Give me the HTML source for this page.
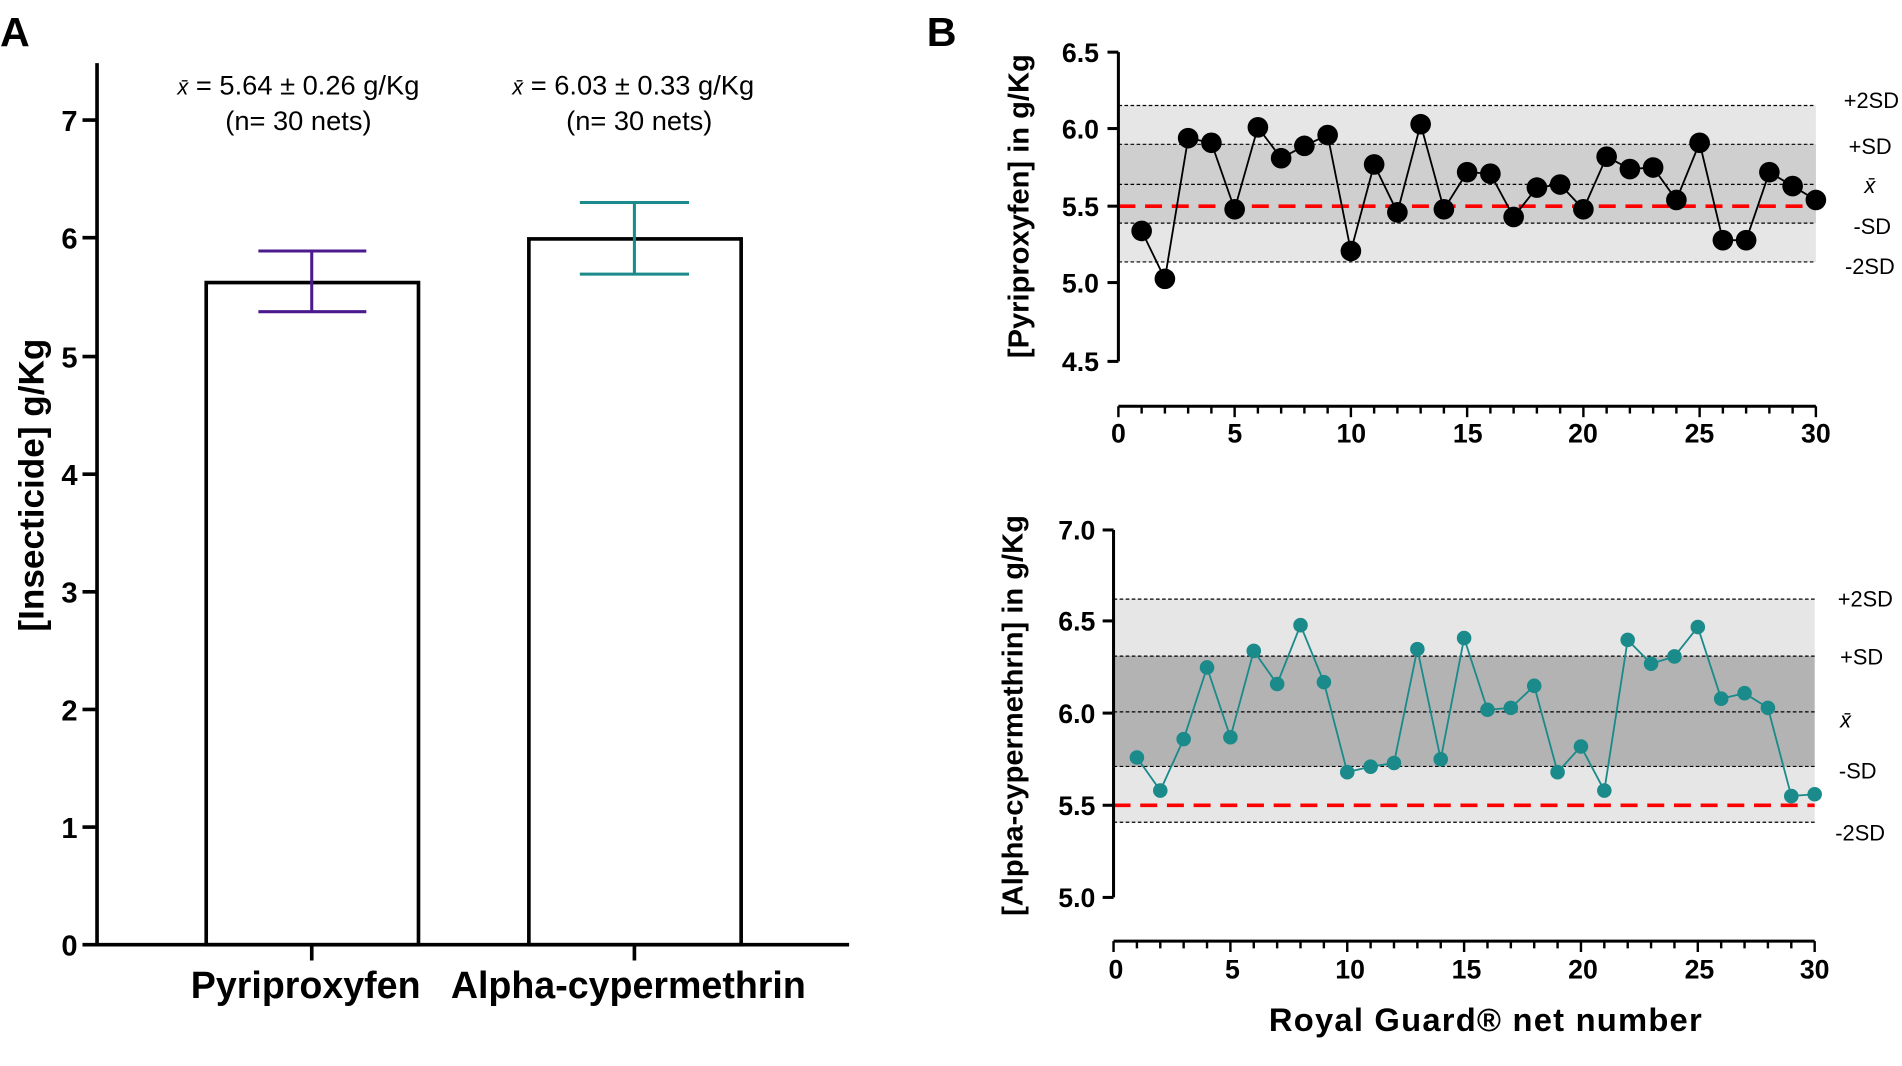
<!DOCTYPE html>
<html><head><meta charset="utf-8"><style>
html,body{margin:0;padding:0;background:#fff;width:1902px;height:1066px;overflow:hidden}
svg{display:block}
text{font-family:"Liberation Sans",sans-serif}
.b{font-weight:bold}
</style></head><body>
<svg id="s" width="1902" height="1066" viewBox="0 0 1568 879" preserveAspectRatio="none" xmlns="http://www.w3.org/2000/svg">
<text x="0" y="38" class="b" font-size="34">A</text>
<text x="764" y="38" class="b" font-size="34">B</text>
<g stroke="#000" stroke-width="3" fill="none">
<line x1="80" y1="52" x2="80" y2="780"/>
<line x1="68" y1="779" x2="700" y2="779"/>
<line x1="68" y1="99" x2="80" y2="99"/><line x1="68" y1="196" x2="80" y2="196"/>
<line x1="68" y1="294" x2="80" y2="294"/><line x1="68" y1="391" x2="80" y2="391"/>
<line x1="68" y1="488" x2="80" y2="488"/><line x1="68" y1="585" x2="80" y2="585"/>
<line x1="68" y1="682" x2="80" y2="682"/>
<line x1="257" y1="779" x2="257" y2="792"/><line x1="523" y1="779" x2="523" y2="792"/>
<rect x="170" y="233" width="175" height="546"/>
<rect x="436" y="197" width="175" height="582"/>
</g>
<g stroke="#4b1a8c" stroke-width="2.5"><line x1="213" y1="207" x2="302" y2="207"/><line x1="213" y1="257" x2="302" y2="257"/><line x1="257" y1="207" x2="257" y2="257"/></g>
<g stroke="#1a8a8a" stroke-width="2.5"><line x1="478" y1="167" x2="568" y2="167"/><line x1="478" y1="226" x2="568" y2="226"/><line x1="523" y1="167" x2="523" y2="226"/></g>
<g class="b" font-size="24" text-anchor="end">
<text x="64" y="108">7</text><text x="64" y="205">6</text><text x="64" y="303">5</text><text x="64" y="400">4</text>
<text x="64" y="497">3</text><text x="64" y="594">2</text><text x="64" y="691">1</text><text x="64" y="788">0</text>
</g>
<g font-size="22.5" text-anchor="middle">
<text x="246" y="78"><tspan font-style="italic" font-size="18">x̄</tspan> = 5.64 ± 0.26 g/Kg</text>
<text x="246" y="107">(n= 30 nets)</text>
<text x="522" y="78"><tspan font-style="italic" font-size="18">x̄</tspan> = 6.03 ± 0.33 g/Kg</text>
<text x="527" y="107">(n= 30 nets)</text>
</g>
<text x="252" y="823" class="b" font-size="31" text-anchor="middle">Pyriproxyfen</text>
<text x="518" y="823" class="b" font-size="31" text-anchor="middle">Alpha-cypermethrin</text>
<text transform="translate(36,400) rotate(-90)" class="b" font-size="29" text-anchor="middle">[Insecticide] g/Kg</text>

<rect x="922" y="87" width="575" height="129" fill="#e6e6e6"/>
<rect x="922" y="119" width="575" height="65" fill="#cfcfcf"/>
<g stroke="#000" stroke-width="1" stroke-dasharray="3,2">
<line x1="922" y1="87" x2="1497" y2="87"/><line x1="922" y1="119" x2="1497" y2="119"/>
<line x1="922" y1="152" x2="1497" y2="152"/><line x1="922" y1="184" x2="1497" y2="184"/>
<line x1="922" y1="216" x2="1497" y2="216"/></g>
<line x1="922" y1="170" x2="1497" y2="170" stroke="#f00" stroke-width="3" stroke-dasharray="14,8"/>
<g stroke="#000" stroke-width="2.5">
<line x1="922" y1="43" x2="922" y2="298"/>
<line x1="913" y1="43" x2="922" y2="43"/><line x1="913" y1="106" x2="922" y2="106"/>
<line x1="913" y1="170" x2="922" y2="170"/><line x1="913" y1="233" x2="922" y2="233"/>
<line x1="913" y1="298" x2="922" y2="298"/>
<line x1="922" y1="335" x2="1497" y2="335"/>
</g>
<g id="xt1" stroke="#000" stroke-width="2"></g>
<g class="b" font-size="22" text-anchor="end">
<text x="906" y="51">6.5</text><text x="906" y="114">6.0</text><text x="906" y="178">5.5</text><text x="906" y="241">5.0</text><text x="906" y="306">4.5</text></g>
<g class="b" font-size="22" text-anchor="middle">
<text x="922" y="365">0</text><text x="1018" y="365">5</text><text x="1114" y="365">10</text><text x="1210" y="365">15</text><text x="1305" y="365">20</text><text x="1401" y="365">25</text><text x="1497" y="365">30</text></g>
<g font-size="18">
<text x="1520" y="89">+2SD</text><text x="1524" y="127">+SD</text><text x="1537" y="159" font-style="italic">x̄</text><text x="1528" y="193">-SD</text><text x="1521" y="226">-2SD</text></g>
<text transform="translate(848,170) rotate(-90)" class="b" font-size="24" text-anchor="middle">[Pyriproxyfen] in g/Kg</text>
<g id="d1"></g>

<rect x="918" y="494" width="578" height="184" fill="#e6e6e6"/>
<rect x="918" y="541" width="578" height="91" fill="#b3b3b3"/>
<g stroke="#000" stroke-width="1" stroke-dasharray="3,2">
<line x1="918" y1="494" x2="1496" y2="494"/><line x1="918" y1="541" x2="1496" y2="541"/>
<line x1="918" y1="587" x2="1496" y2="587"/><line x1="918" y1="632" x2="1496" y2="632"/>
<line x1="918" y1="678" x2="1496" y2="678"/></g>
<line x1="918" y1="664" x2="1496" y2="664" stroke="#f00" stroke-width="3" stroke-dasharray="14,8"/>
<g stroke="#000" stroke-width="2.5">
<line x1="918" y1="437" x2="918" y2="740"/>
<line x1="909" y1="437" x2="918" y2="437"/><line x1="909" y1="512" x2="918" y2="512"/>
<line x1="909" y1="588" x2="918" y2="588"/><line x1="909" y1="664" x2="918" y2="664"/>
<line x1="909" y1="740" x2="918" y2="740"/>
<line x1="918" y1="776" x2="1496" y2="776"/>
</g>
<g id="xt2" stroke="#000" stroke-width="2"></g>
<g class="b" font-size="22" text-anchor="end">
<text x="903" y="445">7.0</text><text x="903" y="520">6.5</text><text x="903" y="596">6.0</text><text x="903" y="672">5.5</text><text x="903" y="748">5.0</text></g>
<g class="b" font-size="22" text-anchor="middle">
<text x="920" y="807">0</text><text x="1016" y="807">5</text><text x="1113" y="807">10</text><text x="1209" y="807">15</text><text x="1305" y="807">20</text><text x="1401" y="807">25</text><text x="1496" y="807">30</text></g>
<g font-size="18">
<text x="1515" y="500">+2SD</text><text x="1517" y="548">+SD</text><text x="1517" y="600" font-style="italic">x̄</text><text x="1516" y="642">-SD</text><text x="1513" y="693">-2SD</text></g>
<text transform="translate(843,590) rotate(-90)" class="b" font-size="24" text-anchor="middle">[Alpha-cypermethrin] in g/Kg</text>
<g id="d2"></g>
<text x="1225" y="850" class="b" font-size="27" text-anchor="middle" letter-spacing="1">Royal Guard® net number</text>
</svg>
<script>
var NS="http://www.w3.org/2000/svg";
function el(p,t,a){var e=document.createElementNS(NS,t);for(var k in a)e.setAttribute(k,a[k]);p.appendChild(e);return e;}
function ticks(id,x0,x1,y,len){var g=document.getElementById(id);for(var i=0;i<=30;i++){var x=x0+(x1-x0)*i/30;el(g,'line',{x1:x,y1:y,x2:x,y2:y+(i%5==0?len+3:len)});}}
ticks('xt1',922,1497,335,6);ticks('xt2',918,1496,776,6);
var a=[5.34,5.03,5.94,5.91,5.48,6.01,5.81,5.89,5.96,5.21,5.77,5.46,6.03,5.48,5.72,5.71,5.43,5.62,5.64,5.48,5.82,5.74,5.75,5.54,5.91,5.28,5.28,5.72,5.63,5.54];
var b=[5.76,5.58,5.86,6.25,5.87,6.34,6.16,6.48,6.17,5.68,5.71,5.73,6.35,5.75,6.41,6.02,6.03,6.15,5.68,5.82,5.58,6.40,6.27,6.31,6.47,6.08,6.11,6.03,5.55,5.56];
function series(id,d,x0,x1,y0,v0,pu,col,r,sw){var g=document.getElementById(id);var pts=d.map(function(v,i){return [x0+(x1-x0)*(i+1)/30,y0-(v-v0)*pu];});
el(g,'polyline',{points:pts.map(function(p){return p.join(',')}).join(' '),fill:'none',stroke:col,'stroke-width':sw});
pts.forEach(function(p){el(g,'circle',{cx:p[0],cy:p[1],r:r,fill:col});});}
series('d1',a,922,1497,170,5.5,127.5,'#000',8.5,1.5);
series('d2',b,918,1496,664,5.5,151.5,'#1a8a8a',6,1.5);
</script>
</body></html>
